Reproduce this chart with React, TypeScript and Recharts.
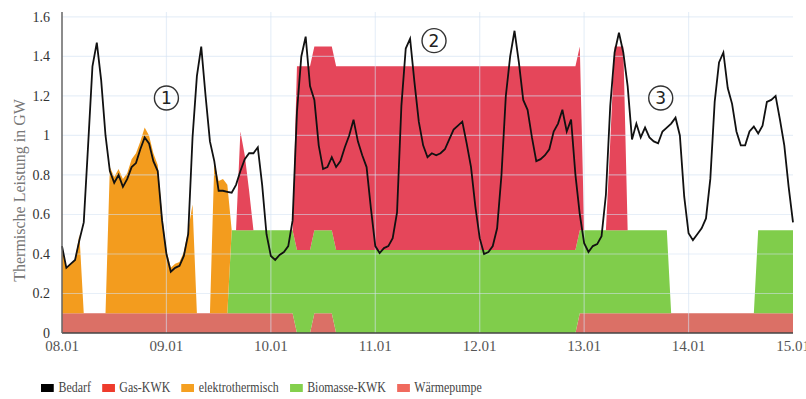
import {
  Area,
  ComposedChart,
  Label,
  Legend,
  Line,
  ReferenceDot,
  ReferenceLine,
  XAxis,
  YAxis,
} from "recharts";

if (typeof document !== "undefined") document.body.style.margin = "0";

// tick positions in hours since 08.01 00:00
const DAY_TICKS = [0, 24, 48, 72, 96, 120, 144, 168];
const DAY_LABELS = ["08.01", "09.01", "10.01", "11.01", "12.01", "13.01", "14.01", "15.01"];
const Y_TICKS = [0, 0.2, 0.4, 0.6, 0.8, 1, 1.2, 1.4, 1.6];

// hourly values in GW, one row per day
const BEDARF = [
  0.44, 0.33, 0.35, 0.37, 0.47, 0.56, 0.95, 1.35, 1.47, 1.28, 1.0, 0.82, 0.76, 0.8, 0.74, 0.78, 0.84, 0.86, 0.93, 0.99, 0.96, 0.87, 0.82, 0.57,
  0.4, 0.31, 0.33, 0.34, 0.39, 0.5, 0.99, 1.3, 1.45, 1.2, 0.97, 0.87, 0.72, 0.72, 0.715, 0.71, 0.75, 0.82, 0.88, 0.91, 0.91, 0.94, 0.75, 0.5,
  0.39, 0.37, 0.395, 0.41, 0.44, 0.57, 1.12, 1.4, 1.5, 1.25, 1.18, 0.95, 0.83, 0.84, 0.89, 0.84, 0.87, 0.94, 1.0, 1.08, 0.97, 0.9, 0.84, 0.63,
  0.44, 0.405, 0.43, 0.44, 0.48, 0.61, 1.15, 1.44, 1.49, 1.27, 1.07, 0.95, 0.89, 0.91, 0.9, 0.91, 0.93, 0.98, 1.03, 1.05, 1.07, 0.96, 0.84, 0.64,
  0.48, 0.4, 0.41, 0.44, 0.53, 0.8, 1.2, 1.4, 1.53, 1.37, 1.18, 1.13, 0.99, 0.87, 0.88, 0.9, 0.93, 1.02, 1.06, 1.13, 1.02, 1.08, 0.8, 0.6,
  0.455, 0.41, 0.44, 0.45, 0.49, 0.7, 1.15, 1.42, 1.52, 1.42, 1.25, 0.98, 1.06, 0.99, 1.04, 0.99, 0.97, 0.96, 1.02, 1.04, 1.06, 1.09, 1.0, 0.69,
  0.505, 0.47, 0.5, 0.53, 0.58, 0.78, 1.17, 1.37, 1.42, 1.24, 1.16, 1.02, 0.95, 0.95, 1.02, 1.045, 1.01, 1.05, 1.17, 1.18, 1.2, 1.08, 0.95, 0.74,
  0.56,
];

const WAERMEPUMPE = [
  0.1, 0.1, 0.1, 0.1, 0.1, 0.1, 0.1, 0.1, 0.1, 0.1, 0.1, 0.1, 0.1, 0.1, 0.1, 0.1, 0.1, 0.1, 0.1, 0.1, 0.1, 0.1, 0.1, 0.1,
  0.1, 0.1, 0.1, 0.1, 0.1, 0.1, 0.1, 0.1, 0.1, 0.1, 0.1, 0.1, 0.1, 0.1, 0.1, 0.1, 0.1, 0.1, 0.1, 0.1, 0.1, 0.1, 0.1, 0.1,
  0.1, 0.1, 0.1, 0.1, 0.1, 0.1, 0, 0, 0, 0, 0.1, 0.1, 0.1, 0.1, 0.1, 0, 0, 0, 0, 0, 0, 0, 0, 0,
  0, 0, 0, 0, 0, 0, 0, 0, 0, 0, 0, 0, 0, 0, 0, 0, 0, 0, 0, 0, 0, 0, 0, 0,
  0, 0, 0, 0, 0, 0, 0, 0, 0, 0, 0, 0, 0, 0, 0, 0, 0, 0, 0, 0, 0, 0, 0, 0.1,
  0.1, 0.1, 0.1, 0.1, 0.1, 0.1, 0.1, 0.1, 0.1, 0.1, 0.1, 0.1, 0.1, 0.1, 0.1, 0.1, 0.1, 0.1, 0.1, 0.1, 0.1, 0.1, 0.1, 0.1,
  0.1, 0.1, 0.1, 0.1, 0.1, 0.1, 0.1, 0.1, 0.1, 0.1, 0.1, 0.1, 0.1, 0.1, 0.1, 0.1, 0.1, 0.1, 0.1, 0.1, 0.1, 0.1, 0.1, 0.1,
  0.1,
];

const BIOMASSE = [
  0, 0, 0, 0, 0, 0, 0, 0, 0, 0, 0, 0, 0, 0, 0, 0, 0, 0, 0, 0, 0, 0, 0, 0,
  0, 0, 0, 0, 0, 0, 0, 0, 0, 0, 0, 0, 0, 0, 0, 0.42, 0.42, 0.42, 0.42, 0.42, 0.42, 0.42, 0.42, 0.42,
  0.42, 0.42, 0.42, 0.42, 0.42, 0.42, 0.42, 0.42, 0.42, 0.42, 0.42, 0.42, 0.42, 0.42, 0.42, 0.42, 0.42, 0.42, 0.42, 0.42, 0.42, 0.42, 0.42, 0.42,
  0.42, 0.42, 0.42, 0.42, 0.42, 0.42, 0.42, 0.42, 0.42, 0.42, 0.42, 0.42, 0.42, 0.42, 0.42, 0.42, 0.42, 0.42, 0.42, 0.42, 0.42, 0.42, 0.42, 0.42,
  0.42, 0.42, 0.42, 0.42, 0.42, 0.42, 0.42, 0.42, 0.42, 0.42, 0.42, 0.42, 0.42, 0.42, 0.42, 0.42, 0.42, 0.42, 0.42, 0.42, 0.42, 0.42, 0.42, 0.42,
  0.42, 0.42, 0.42, 0.42, 0.42, 0.42, 0.42, 0.42, 0.42, 0.42, 0.42, 0.42, 0.42, 0.42, 0.42, 0.42, 0.42, 0.42, 0.42, 0.42, 0, 0, 0, 0,
  0, 0, 0, 0, 0, 0, 0, 0, 0, 0, 0, 0, 0, 0, 0, 0, 0.42, 0.42, 0.42, 0.42, 0.42, 0.42, 0.42, 0.42,
  0.42,
];

const GAS_KWK = [
  0, 0, 0, 0, 0, 0, 0, 0, 0, 0, 0, 0, 0, 0, 0, 0, 0, 0, 0, 0, 0, 0, 0, 0,
  0, 0, 0, 0, 0, 0, 0, 0, 0, 0, 0, 0, 0, 0, 0, 0, 0, 0.5, 0.38, 0.2, 0, 0, 0, 0,
  0, 0, 0, 0, 0, 0, 0.93, 0.93, 0.93, 0.93, 0.93, 0.93, 0.93, 0.93, 0.93, 0.93, 0.93, 0.93, 0.93, 0.93, 0.93, 0.93, 0.93, 0.93,
  0.93, 0.93, 0.93, 0.93, 0.93, 0.93, 0.93, 0.93, 0.93, 0.93, 0.93, 0.93, 0.93, 0.93, 0.93, 0.93, 0.93, 0.93, 0.93, 0.93, 0.93, 0.93, 0.93, 0.93,
  0.93, 0.93, 0.93, 0.93, 0.93, 0.93, 0.93, 0.93, 0.93, 0.93, 0.93, 0.93, 0.93, 0.93, 0.93, 0.93, 0.93, 0.93, 0.93, 0.93, 0.93, 0.93, 0.93, 0.93,
  0, 0, 0, 0, 0, 0, 0.45, 0.93, 0.93, 0.93, 0, 0, 0, 0, 0, 0, 0, 0, 0, 0, 0, 0, 0, 0,
  0, 0, 0, 0, 0, 0, 0, 0, 0, 0, 0, 0, 0, 0, 0, 0, 0, 0, 0, 0, 0, 0, 0, 0,
  0,
];

const ELEKTRO = [
  0.34, 0.23, 0.25, 0.27, 0.4, 0, 0, 0, 0, 0, 0, 0.74, 0.69, 0.73, 0.68, 0.71, 0.78, 0.81, 0.87, 0.94, 0.9, 0.81, 0.75, 0.5,
  0.32, 0.23, 0.25, 0.26, 0.31, 0.42, 0.55, 0, 0, 0, 0, 0.76, 0.67, 0.68, 0.65, 0, 0, 0, 0, 0, 0, 0, 0, 0,
  0, 0, 0, 0, 0, 0, 0, 0, 0, 0, 0, 0, 0, 0, 0, 0, 0, 0, 0, 0, 0, 0, 0, 0,
  0, 0, 0, 0, 0, 0, 0, 0, 0, 0, 0, 0, 0, 0, 0, 0, 0, 0, 0, 0, 0, 0, 0, 0,
  0, 0, 0, 0, 0, 0, 0, 0, 0, 0, 0, 0, 0, 0, 0, 0, 0, 0, 0, 0, 0, 0, 0, 0,
  0, 0, 0, 0, 0, 0, 0, 0, 0, 0, 0, 0, 0, 0, 0, 0, 0, 0, 0, 0, 0, 0, 0, 0,
  0, 0, 0, 0, 0, 0, 0, 0, 0, 0, 0, 0, 0, 0, 0, 0, 0, 0, 0, 0, 0, 0, 0, 0,
  0,
];

// circled phase markers (hour, GW)
const MARKERS = [
  { label: "1", h: 24, v: 1.19 },
  { label: "2", h: 85.5, v: 1.48 },
  { label: "3", h: 137.6, v: 1.19 },
];

const LEGEND_ITEMS = [
  { name: "Bedarf", color: "#000000" },
  { name: "Gas-KWK", color: "#ee3b2c" },
  { name: "elektrothermisch", color: "#f5a021" },
  { name: "Biomasse-KWK", color: "#84d04d" },
  { name: "Wärmepumpe", color: "#f06a5e" },
];

const COL_WP = "#db7066";
const COL_BIO = "#80cd4b";
const COL_GAS = "#e5465a";
const COL_EL = "#f39c1e";
const COL_GRID = "#d4e1f2";

const data = BEDARF.map((b, i) => ({
  h: i,
  bedarf: b,
  waerme: WAERMEPUMPE[i],
  bio: BIOMASSE[i],
  gas: GAS_KWK[i],
  elektro: ELEKTRO[i],
}));

const FONT = '"Liberation Serif", serif';

// legend text is condensed in the original, so squeeze the whole row
function renderLegend() {
  const k = 0.85;
  return (
    <div
      style={{
        display: "flex",
        alignItems: "center",
        height: 22,
        fontFamily: FONT,
        fontSize: 14,
        color: "#444",
        transform: `scaleX(${k})`,
        transformOrigin: "left center",
        whiteSpace: "nowrap",
      }}
    >
      {LEGEND_ITEMS.map((it) => (
        <div key={it.name} style={{ display: "flex", alignItems: "center", marginRight: 11 / k }}>
          <span style={{ display: "inline-block", width: 13 / k, height: 8, background: it.color, marginRight: 4.5 / k }} />
          <span>{it.name}</span>
        </div>
      ))}
    </div>
  );
}

function renderYLabel(props: any) {
  const vb = props.viewBox || { x: 0, y: 0, width: 62, height: 321 };
  const x = vb.x + 25;
  const y = vb.y + vb.height / 2 + 18;
  return (
    <text x={x} y={y} transform={`rotate(-90 ${x} ${y})`} textAnchor="middle" fontSize={16} fill="#777" fontFamily={FONT}>
      Thermische Leistung in GW
    </text>
  );
}

export default function App() {
  return (
    <div style={{ width: 806, height: 399, fontFamily: FONT, background: "#fff" }}>
      <ComposedChart width={806} height={399} data={data} margin={{ top: 12, right: 13, left: 0, bottom: 0 }}>
        <XAxis
          dataKey="h"
          type="number"
          domain={[0, 168]}
          ticks={DAY_TICKS}
          interval={0}
          tickFormatter={(v: number) => DAY_LABELS[DAY_TICKS.indexOf(v)]}
          height={44}
          tickLine={false}
          tickSize={4}
          tickMargin={3}
          axisLine={{ stroke: "#444", strokeWidth: 1.5 }}
          tick={{ fontSize: 15, fill: "#555", fontFamily: FONT }}
        />
        <YAxis
          type="number"
          domain={[0, 1.625]}
          ticks={Y_TICKS}
          interval={0}
          width={62}
          tickLine={false}
          tickSize={6}
          tickMargin={6}
          axisLine={{ stroke: "#666", strokeWidth: 1.5 }}
          tick={{ fontSize: 14, fill: "#333", fontFamily: FONT }}
        >
          <Label content={renderYLabel} />
        </YAxis>
        <XAxis
          xAxisId="top"
          orientation="top"
          dataKey="h"
          type="number"
          domain={[0, 168]}
          height={0}
          tick={false}
          tickLine={false}
          axisLine={{ stroke: "#b0b0b0", strokeWidth: 1.5 }}
        />
        <YAxis
          yAxisId="right"
          orientation="right"
          type="number"
          domain={[0, 1.625]}
          width={0}
          tick={false}
          tickLine={false}
          axisLine={{ stroke: "#b0b0b0", strokeWidth: 1.5 }}
        />
        <Area type="linear" dataKey="waerme" name="Wärmepumpe" stackId="s" stroke="none" fill={COL_WP} fillOpacity={1} isAnimationActive={false} />
        <Area type="linear" dataKey="bio" name="Biomasse-KWK" stackId="s" stroke="none" fill={COL_BIO} fillOpacity={1} isAnimationActive={false} />
        <Area type="linear" dataKey="gas" name="Gas-KWK" stackId="s" stroke="none" fill={COL_GAS} fillOpacity={1} isAnimationActive={false} />
        <Area type="linear" dataKey="elektro" name="elektrothermisch" stackId="s" stroke="none" fill={COL_EL} fillOpacity={1} isAnimationActive={false} />
        {Y_TICKS.slice(1).map((t) => (
          <ReferenceLine key={`y${t}`} y={t} stroke={COL_GRID} strokeOpacity={0.55} strokeWidth={1.2} />
        ))}
        {DAY_TICKS.slice(1, -1).map((t) => (
          <ReferenceLine key={`x${t}`} x={t} stroke={COL_GRID} strokeOpacity={0.55} strokeWidth={1.2} />
        ))}
        <Line type="linear" dataKey="bedarf" name="Bedarf" stroke="#111" strokeWidth={1.8} dot={false} isAnimationActive={false} />
        {MARKERS.map((m) => (
          <ReferenceDot
            key={m.label}
            x={m.h}
            y={m.v}
            r={12}
            fill="none"
            stroke="#333"
            strokeWidth={1.4}
            label={{ value: m.label, position: "center", fontSize: 17, fill: "#222", fontFamily: '"DejaVu Sans", sans-serif' }}
          />
        ))}
        <Legend verticalAlign="bottom" align="left" wrapperStyle={{ left: 41, bottom: 0, width: 520, height: 22 }} content={renderLegend} />
      </ComposedChart>
    </div>
  );
}
